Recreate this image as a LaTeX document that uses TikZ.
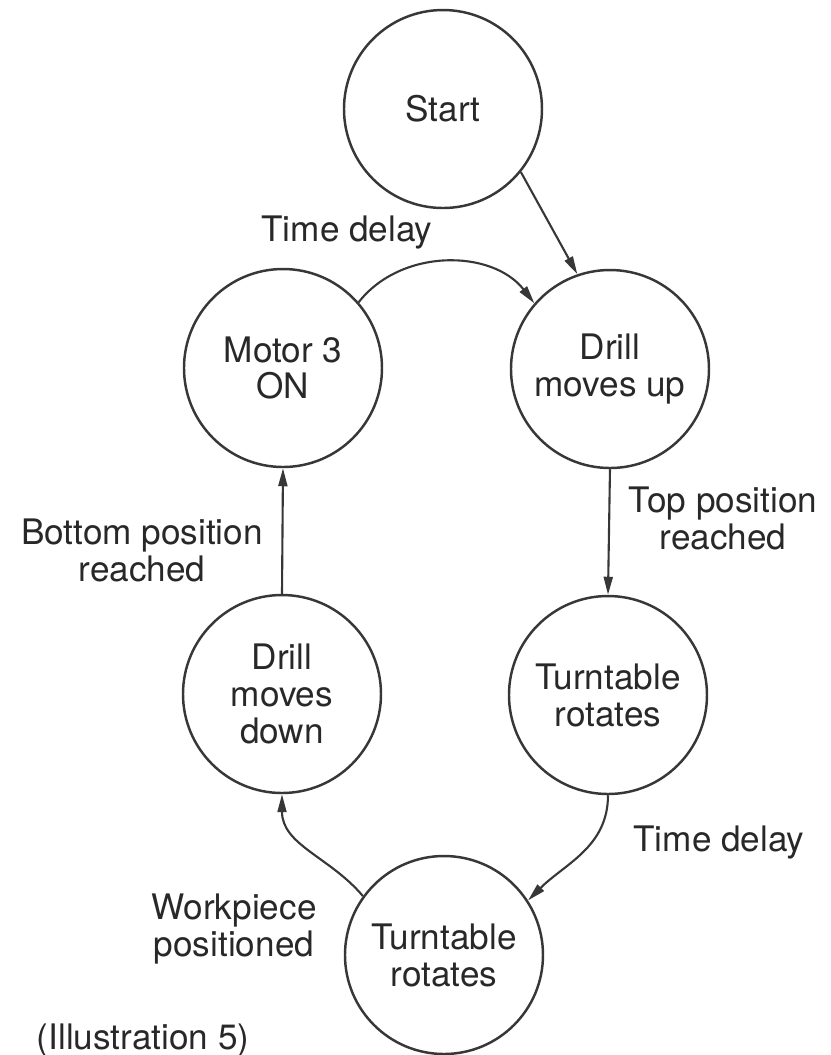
\documentclass[tikz,border=0pt]{standalone}
\usepackage{fontspec}
\setmainfont{TeX Gyre Heros}
\usepackage{tikz}
\usetikzlibrary{calc,arrows.meta}
\definecolor{cycleInk}{RGB}{55,55,55}
\definecolor{cycleText}{RGB}{40,40,40}

\begin{document}
\begin{tikzpicture}[
  state/.style={circle, draw=cycleInk, line width=0.7pt, minimum size=1.98cm, inner sep=0pt,
    align=center, text=cycleText, font=\fontsize{10}{10.5}\selectfont},
  lbl/.style={align=center, text=cycleText, font=\fontsize{10}{10.5}\selectfont},
  trans/.style={draw=cycleInk, line width=0.6pt, -{Triangle[length=1.8mm, width=0.9mm]}}]
\useasboundingbox (0,0) rectangle (8.31,-10.55);

% states
\node[state] (start) at (4.43,-1.09) {Start};
\node[state] (motor) at (2.83,-3.68) {Motor 3\\ON};
\node[state] (drillup) at (6.10,-3.69) {Drill\\moves up};
\node[state] (drilldown) at (2.82,-6.94) {Drill\\moves\\down};
\node[state] (turnright) at (6.08,-6.95) {Turntable\\rotates};
\node[state] (turnbottom) at (4.44,-9.55) {Turntable\\rotates};

% transitions
\draw[trans] (start.-39) -- (drillup.109);
\draw[trans] (motor.41) to[out=52, in=128] (drillup.139);
\draw[trans] (drillup.south) -- (turnright.north);
\draw[trans] (turnright.south) to[out=-90, in=45] (turnbottom.33);
\draw[trans] (turnbottom.144) to[out=130, in=-90] (drilldown.south);
\draw[trans] (drilldown.north) -- (motor.south);

% conditions
\node[lbl] (delaytop) at (3.47,-2.33) {Time delay};
\node[lbl] (toppos) at (7.23,-5.18) {Top position\\reached};
\node[lbl] (bottompos) at (1.42,-5.50) {Bottom position\\reached};
\node[lbl] (delaybottom) at (7.19,-8.43) {Time delay};
\node[lbl] (workpiece) at (2.34,-9.29) {Workpiece\\positioned};
\node[lbl] (caption) at (1.43,-10.40) {(Illustration 5)};
\end{tikzpicture}
\end{document}
